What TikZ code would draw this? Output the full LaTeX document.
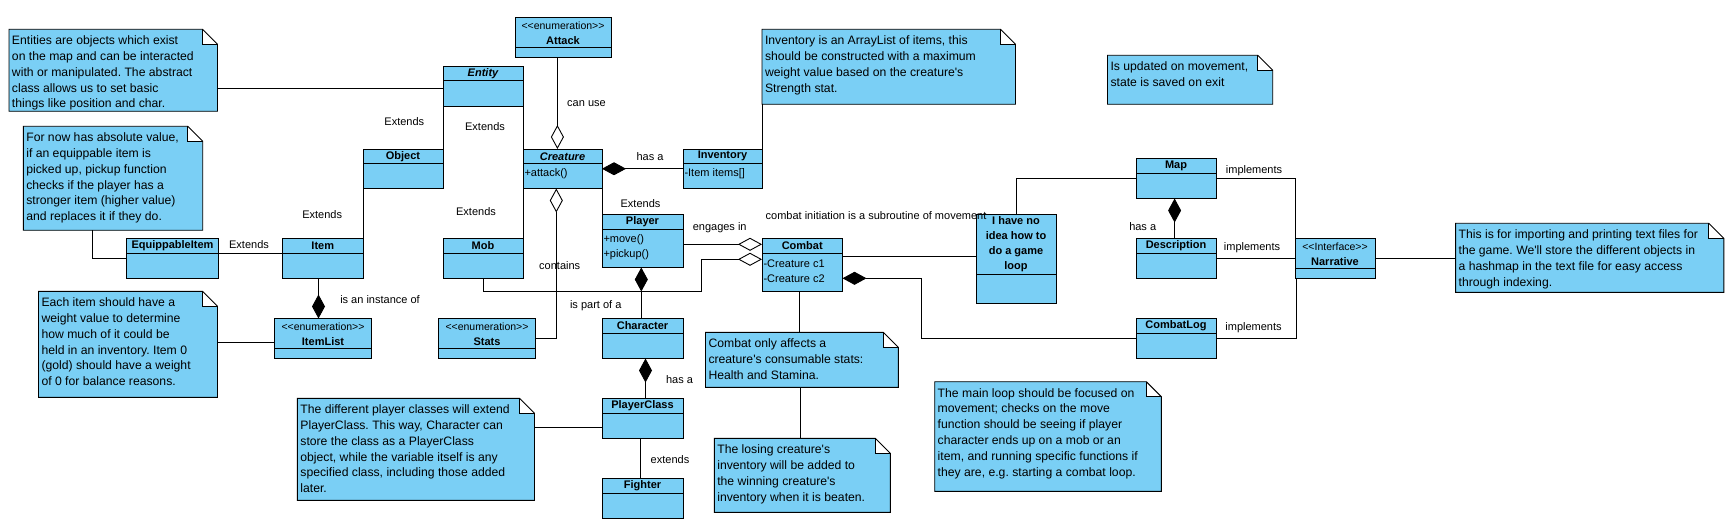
\documentclass[tikz,border=0pt]{standalone}
\usepackage{fontspec}
\setmainfont{Liberation Sans}[Ligatures=TeXOff]
\usetikzlibrary{arrows.meta,calc}
\definecolor{boxblue}{RGB}{122,207,245}
\frenchspacing
\tikzset{
 ln/.style={line width=0.9pt, draw=black},
 clsbox/.style={draw=black, line width=0.9pt, fill=boxblue, inner sep=0pt, outer sep=0pt, rectangle},
 clsname/.style={font=\fontsize{11}{15}\selectfont\bfseries, inner sep=0pt, align=center},
 stereo/.style={font=\fontsize{10.5}{12}\selectfont, inner sep=0pt},
 member/.style={font=\fontsize{11}{13}\selectfont, inner sep=0pt, anchor=west},
 lbl/.style={font=\fontsize{11}{13}\selectfont, inner sep=0pt},
 notetext/.style={font=\fontsize{12.2}{15.8}\selectfont, inner sep=0pt, anchor=north west, align=left},
 comp/.style={ln, {Diamond[length=24pt,width=13pt]}-},
 agg/.style={ln, {Diamond[length=24pt,width=13pt,fill=white]}-},
}
\newcommand\UCls[7]{%
 \node[clsbox, minimum width={#4-#2}, minimum height={#5-#3}] (#1) at ({(#2+#4)/2},{(#3+#5)/2}) {};
 \draw[ln] (#2,#6) -- (#4,#6);
 \node[clsname] (#1-t) at ({(#2+#4)/2},{(#3+#6)/2}) {#7};
}
\newcommand\UEnum[8]{%
 \node[clsbox, minimum width={#4-#2}, minimum height={#5-#3}] (#1) at ({(#2+#4)/2},{(#3+#5)/2}) {};
 \draw[ln] (#2,#6) -- (#4,#6);
 \node[stereo] (#1-s) at ({(#2+#4)/2},{#3+7.8}) {#7};
 \node[clsname] (#1-t) at ({(#2+#4)/2},{#3+22.8}) {#8};
}
\newcommand\UNote[6]{%
 \fill[boxblue] (#2,#3) -- ({#4-15},#3) -- ({#4-15},{#3+15}) -- (#4,{#3+15}) -- (#4,#5) -- (#2,#5) -- cycle;
 \draw[ln] (#2,#3) -- ({#4-15},#3) -- (#4,{#3+15}) -- (#4,#5) -- (#2,#5) -- cycle;
 \draw[ln] ({#4-15},#3) -- ({#4-15},{#3+15}) -- (#4,{#3+15});
 \node[inner sep=0pt, outer sep=0pt, minimum width={#4-#2}, minimum height={#5-#3}] (#1) at ({(#2+#4)/2},{(#3+#5)/2}) {};
 \node[notetext] (#1-x) at ({#2+2.8},{#3+6.3}) {#6};
}
\begin{document}
\begin{tikzpicture}[x=1pt,y=-1pt]
\fill[white] (0,0) rectangle (1736,529);
\useasboundingbox (0,0) rectangle (1736,529);

% notes
\UNote{N1}{9}{29.3}{217.5}{111.3}{Entities are objects which exist\\on the map and can be interacted\\with or manipulated. The abstract\\class allows us to set basic\\things like position and char.}
\UNote{N2}{23.3}{126.3}{202.7}{230.3}{For now has absolute value,\\if an equippable item is\\picked up, pickup function\\checks if the player has a\\stronger item (higher value)\\and replaces it if they do.}
\UNote{N3}{38.5}{291.3}{217.5}{397.3}{Each item should have a\\weight value to determine\\how much of it could be\\held in an inventory. Item 0\\(gold) should have a weight\\of 0 for balance reasons.}
\UNote{N4}{297.4}{398.3}{534.5}{500.3}{The different player classes will extend\\PlayerClass. This way, Character can\\store the class as a PlayerClass\\object, while the variable itself is any\\specified class, including those added\\later.}
\UNote{N5}{762}{29.3}{1015.5}{104.3}{Inventory is an ArrayList of items, this\\should be constructed with a maximum\\weight value based on the creature's\\Strength stat.}
\UNote{N6}{1107.5}{55.3}{1272.7}{104.3}{Is updated on movement,\\state is saved on exit}
\UNote{N7}{705.5}{332.3}{898.4}{387.3}{Combat only affects a\\creature's consumable stats:\\Health and Stamina.}
\UNote{N8}{714.3}{438.3}{890.4}{512.3}{The losing creature's\\inventory will be added to\\the winning creature's\\inventory when it is beaten.}
\UNote{N9}{934.7}{381.7}{1161.3}{491.3}{The main loop should be focused on\\movement; checks on the move\\function should be seeing if player\\character ends up on a mob or an\\item, and running specific functions if\\they are, e.g. starting a combat loop.}
\UNote{N10}{1455.6}{223.3}{1723.8}{292.3}{This is for importing and printing text files for\\the game. We'll store the different objects in\\a hashmap in the text file for easy access\\through indexing.}

% classes
\UEnum{Attack}{515}{17.7}{611}{57.3}{47.3}{<<enumeration>>}{Attack}
\UCls{Entity}{443}{66}{523}{106}{80.5}{\itshape Entity}
\UCls{Object}{363}{149}{443}{188.5}{163.5}{Object}
\UCls{Creature}{523}{149}{602}{188.5}{163.5}{\itshape Creature}
\UCls{Inventory}{683}{149}{762}{188.5}{163.5}{Inventory}
\UCls{EquippableItem}{126.5}{238.5}{218.5}{278.5}{253.5}{EquippableItem}
\UCls{Item}{282.5}{238.5}{363}{278.5}{253.5}{Item}
\UCls{Mob}{443}{238.5}{523}{278.5}{253.5}{Mob}
\UCls{Player}{602}{214.5}{683}{267.5}{229.5}{Player}
\UCls{Combat}{762}{238.5}{842.5}{291.5}{253.5}{Combat}
\UCls{Loop}{976}{214.5}{1056}{303.5}{274.5}{I have no\\idea how to\\do a game\\loop}
\UEnum{ItemList}{274.5}{318.5}{371.5}{358.5}{348.5}{<<enumeration>>}{ItemList}
\UEnum{Stats}{438.5}{318.5}{535.5}{358.5}{348.5}{<<enumeration>>}{Stats}
\UCls{Character}{602}{318.5}{683}{358.5}{333.5}{Character}
\UCls{PlayerClass}{602}{398.5}{683}{438.5}{413.5}{PlayerClass}
\UCls{Fighter}{602}{478.5}{683}{518.5}{493.5}{Fighter}
\UCls{Map}{1136}{158.5}{1216}{198.5}{173.5}{Map}
\UCls{Description}{1136}{238.5}{1216}{278.5}{253.5}{Description}
\UCls{CombatLog}{1136}{318.5}{1216}{358.5}{333.5}{CombatLog}
\UEnum{Narrative}{1295}{238.5}{1375}{278.5}{268.5}{<<Interface>>}{Narrative}

% members
\node[member] (m1) at (524.3,173.5) {+attack()};
\node[member] (m2) at (684.3,173.5) {-Item items[]};
\node[member] (m3) at (603.3,240) {+move()};
\node[member] (m4) at (603.3,254.5) {+pickup()};
\node[member] (m5) at (763.3,263.5) {-Creature c1};
\node[member] (m6) at (763.3,278.5) {-Creature c2};

% connectors
\draw[ln] ($(N1.east |- Entity.west)+(0,2.3)$) -- ($(Entity.west)+(0,2.3)$);
\draw[ln] (Entity.south west) -- (Object.north east);
\draw[ln] (Entity.south east) -- (Creature.north west);
\draw[ln] (Creature.south west) -- (Mob.north east);
\draw[ln] (Object.south west) -- (Item.north east);
\draw[ln] ($(EquippableItem.north east)+(0,15)$) -- ($(Item.north west)+(0,15)$);
\draw[ln] ($(N2.south west)+(69.2,0)$) |- (EquippableItem.west);
\draw[comp] ($(ItemList.north)+(-4.5,0)$) -- ($(Item.south)+(-4.25,0)$);
\draw[ln] ($(N3.east |- ItemList.west)+(0,3.8)$) -- ($(ItemList.west)+(0,3.8)$);
\draw[agg] ($(Creature.north)+(-5.1,0)$) -- ($(Attack.south)+(-5.6,0)$);
\draw[comp] (Creature.east) -- (Inventory.west);
\draw[ln] (N5.south west) -- (Inventory.north east);
\draw[ln] (Creature.south east) -- (Player.north west);
\draw[agg] ($(Creature.south)+(-6.2,0)$) |- (Stats.east);
\draw[agg] ($(Combat.north west)+(0,5.8)$) -- ($(Player.east |- Combat.north west)+(0,5.8)$);
\draw[agg] ($(Combat.north west)+(0,20.8)$) -- ++(-60.7,0) -- ++(0,32) -| (Mob.south);
\draw[comp] ($(Player.south)+(-1.2,0)$) -- ($(Character.north)+(-1.2,0)$);
\draw[comp] ($(Character.south)+(3,0)$) -- ($(PlayerClass.north)+(3,0)$);
\draw[ln] ($(PlayerClass.south)+(-2.5,0)$) -- ($(Fighter.north)+(-2.5,0)$);
\draw[ln] ($(N4.east |- PlayerClass.west)+(0,8.8)$) -- ($(PlayerClass.west)+(0,8.8)$);
\draw[ln] ($(Combat.east)+(0,-8.5)$) -- ($(Loop.west |- Combat.east)+(0,-8.5)$);
\draw[ln] ($(Combat.south)+(-2.7,0)$) -- ($(N7.north -| Combat.south)+(-2.7,0)$);
\draw[ln] ($(N7.south)+(-1.5,0)$) -- ($(N8.north -| N7.south)+(-1.5,0)$);
\draw[comp] ($(Combat.east)+(0,13.3)$) -- ++(79,0) |- (CombatLog.west);
\draw[ln] (Map.west) -| (Loop.north);
\draw[ln] (Map.east) -| ($(Narrative.north west)+(0.3,0)$);
\draw[ln] (Description.east) -- (Narrative.west);
\draw[ln] (CombatLog.east) -| ($(Narrative.south west)+(1.7,0)$);
\draw[comp] ($(Map.south)+(-1.4,0)$) -- ($(Description.north)+(-1.4,0)$);
\draw[ln] (Narrative.east) -- (N10.west |- Narrative.east);

% labels
\node[lbl] (l1) at (404.3,122) {Extends};
\node[lbl] (l2) at (485,127) {Extends};
\node[lbl] (l3) at (322.2,215) {Extends};
\node[lbl] (l4) at (476,212) {Extends};
\node[lbl] (l5) at (249,245) {Extends};
\node[lbl] (l6) at (640.5,204) {Extends};
\node[lbl] (l7) at (586.5,103.3) {can use};
\node[lbl] (l8) at (650,156.7) {has a};
\node[lbl] (l9) at (380,299.3) {is an instance of};
\node[lbl] (l10) at (559.7,265.3) {contains};
\node[lbl] (l11) at (719.7,227.7) {engages in};
\node[lbl] (l12) at (595.7,305.3) {is part of a};
\node[lbl] (l13) at (679.5,379.3) {has a};
\node[lbl] (l14) at (670,459.3) {extends};
\node[lbl] (l15) at (876,215.3) {combat initiation is a subroutine of movement};
\node[lbl] (l16) at (1254,170.3) {implements};
\node[lbl] (l17) at (1252,247.3) {implements};
\node[lbl] (l18) at (1253.5,327.3) {implements};
\node[lbl] (l19) at (1142.7,226.3) {has a};
\end{tikzpicture}
\end{document}
